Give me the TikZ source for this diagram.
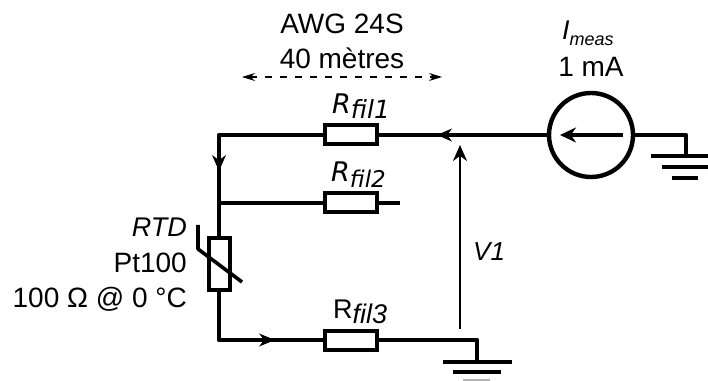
\documentclass[tikz,border=0pt]{standalone}
\usepackage{fontspec}
\setmainfont{Liberation Sans}
\newfontfamily\dejavu{DejaVu Sans}
\usetikzlibrary{arrows.meta}

\newcommand{\fsz}[1]{\fontsize{#1}{#1}\selectfont}

\tikzset{
  x=1pt, y=1pt,
  wire/.style={line width=4.6pt, line join=round},
  resistor/.style={draw, line width=4pt, fill=white, inner sep=0pt, minimum width=52pt, minimum height=19pt},
  txt/.style={inner sep=0pt, anchor=base, font=\fsz{28}},
  txtl/.style={inner sep=0pt, anchor=base west, font=\fsz{27}},
  txtr/.style={inner sep=0pt, anchor=base east, font=\fsz{28}},
  bar/.style={line width=4.6pt},
  sense/.style={-{Stealth[length=16pt,width=14pt]}, line width=2.6pt},
  tick/.style={line width=1pt}
}

\begin{document}
\begin{tikzpicture}
  \useasboundingbox (0,0) rectangle (708,380);
  % corners and ends of the wires
  \coordinate (topleft) at (219,245);
  \coordinate (branch) at (219,177);
  \coordinate (botleft) at (219,40);
  \coordinate (botright) at (477,40);
  \coordinate (gndb) at (477,18);
  \coordinate (fil2end) at (400,177);
  \coordinate (srcright) at (686,245);
  \coordinate (gndr) at (686,224);
  % parts
  \node[circle, draw, line width=4.4pt, inner sep=0pt, minimum size=84pt] (src) at (591,245) {};
  \node[resistor] (fil1) at (351,245) {};
  \node[resistor] (fil2) at (351,177) {};
  \node[resistor] (fil3) at (351,40) {};
  \node[draw, line width=4pt, inner sep=0pt, minimum width=21pt, minimum height=52pt, fill=white] (rtd) at (219.5,116) {};
  % wires
  \draw[wire] (fil1) -- (topleft) -- (rtd.north -| topleft);
  \draw[wire] (fil1) -- (src);
  \draw[wire] (branch) -- (fil2);
  \draw[wire] (fil2) -- (fil2end);
  \draw[wire] (rtd.south -| botleft) -- (botleft) -- (fil3);
  \draw[wire] (fil3) -- (botright) -- (gndb);
  \draw[wire] (src) -- (srcright) -- (gndr);
  % arrows on the wires
  \coordinate (a1s) at (457,245);
  \coordinate (a1e) at (437,245);
  \draw[-{Stealth[length=15pt,width=13pt]}, tick] (a1s) -- (a1e);
  \coordinate (a2s) at (219,225);
  \coordinate (a2e) at (219,209);
  \draw[-{Stealth[length=16pt,width=14pt]}, tick] (a2s) -- (a2e);
  \coordinate (a3s) at (258,40);
  \coordinate (a3e) at (275,40);
  \draw[-{Stealth[length=16pt,width=13pt]}, tick] (a3s) -- (a3e);
  % arrow in the source
  \coordinate (srcs) at (623,245);
  \coordinate (srce) at (560,245);
  \draw[-{Stealth[length=16pt,width=15pt]}, line width=4.6pt] (srcs) -- (srce);
  % thermistor slash
  \coordinate (sl1) at (198,155);
  \coordinate (sl2) at (198,131);
  \coordinate (sl3) at (242,98);
  \draw[line width=3.6pt, line join=round] (sl1) -- (sl2) -- (sl3);
  % ground right
  \coordinate (g1a) at (651,224); \coordinate (g1b) at (708,224);
  \coordinate (g2a) at (662,213); \coordinate (g2b) at (708,213);
  \coordinate (g3a) at (672,202); \coordinate (g3b) at (698,202);
  \draw[bar] (g1a) -- (g1b);
  \draw[bar] (g2a) -- (g2b);
  \draw[bar] (g3a) -- (g3b);
  % ground bottom
  \coordinate (g4a) at (443,18); \coordinate (g4b) at (512,18);
  \coordinate (g5a) at (453,8); \coordinate (g5b) at (501,8);
  \coordinate (g6a) at (463,-1); \coordinate (g6b) at (490,-1);
  \draw[bar] (g4a) -- (g4b);
  \draw[bar] (g5a) -- (g5b);
  \draw[bar, black!30] (g6a) -- (g6b);
  % V1 arrow
  \coordinate (vs) at (460,51);
  \coordinate (ve) at (460,235);
  \draw[sense] (vs) -- (ve);
  % cable length
  \coordinate (dl) at (242,303);
  \coordinate (dr) at (442,303);
  \draw[{Stealth[length=13pt,width=8pt]}-{Stealth[length=13pt,width=8pt]}, line width=1.1pt, dash pattern=on 7pt off 8pt] (dl) -- (dr);
  % labels
  \node[txt] (awg) at (342,346) {AWG 24S};
  \node[txt] (len) at (342,311) {40 mètres};
  \node[txtl] (lf1) at (332,266) {\dejavu\fsz{27}\textit{R}\raisebox{-5pt}{\fsz{25}\textit{fil1}}};
  \node[txtl] (lf2) at (331,198) {\dejavu\fsz{27}\textit{R}\raisebox{-6pt}{\fsz{23}\textit{fil2}}};
  \node[txtl] (lf3) at (333,62) {R\raisebox{-5pt}{\textit{fil3}}};
  \node[txtl, font=\fsz{26}] (v1) at (473,119) {\textit{V1}};
  \node[txtl] (imeas) at (562,340) {\textit{I}\raisebox{-6pt}{\fsz{18}\textit{meas}}};
  \node[txt] (cur) at (591,303) {1 mA};
  \node[txtr, font=\fsz{27}] (rtdname) at (187,143) {\textit{RTD}};
  \node[txtr] (pt) at (187,108) {Pt100};
  \node[txtr] (ohm) at (187,73) {100 Ω @ 0 °C};
\end{tikzpicture}
\end{document}
